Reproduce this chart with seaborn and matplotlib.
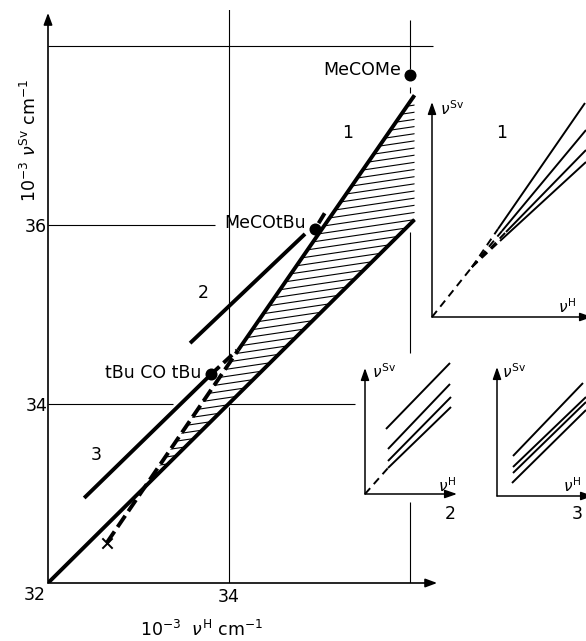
import numpy as np
import matplotlib
matplotlib.use("Agg")
import matplotlib.pyplot as plt
from matplotlib.patches import Polygon
import seaborn as sns

# ---------------- data (units: 10^-3 cm^-1) ----------------
lower_x = [32.0, 36.05]
lower_y = [32.0, 36.06]
line1_solid_x = [34.10, 36.05]
line1_solid_y = [34.60, 37.45]
line1_dash_x = [32.65, 34.10]
line1_dash_y = [32.45, 34.60]
line2_solid_x = [33.57, 34.84]
line2_solid_y = [34.68, 35.90]
line2_dash_x = [34.99, 35.08]
line2_dash_y = [36.02, 36.17]
line3_solid_x = [32.40, 33.77]
line3_solid_y = [32.95, 34.30]
line3_dash_x = [33.80, 34.09]
line3_dash_y = [34.33, 34.60]

solvent_names = ["MeCOMe", "MeCOtBu", "tBu CO tBu"]
solvent_x = [36.00, 34.95, 33.80]
solvent_y = [37.68, 35.95, 34.33]
label_right_x = [35.90, 34.85, 33.69]
label_base_y = [37.68, 35.97, 34.29]

cross_x = [32.65]
cross_y = [32.45]

region_labels = ["1", "2", "3"]
region_x = [35.31, 33.72, 32.53]
region_y = [37.03, 35.24, 33.43]

x_ticks = [34]
y_ticks = [34, 36]

# grid lines: (value, start, end) visible pieces
grid_h = [(38, 32.0, 36.25), (36, 32.0, 33.84), (34, 32.0, 33.38), (34, 33.95, 35.39)]
grid_v = [(34, 32.0, 33.97), (34, 34.52, 38.42), (36, 37.74, 38.29),
          (36, 37.47, 37.54), (36, 34.57, 35.92), (36, 32.0, 32.90)]

# insets (schematic units)
ins1_conv = (40, 50)
ins1_start_u = [66, 70, 74, 68]
ins1_start_v = [88, 86, 85, 76]
ins1_end_u = [153, 154, 154, 154]
ins1_end_v = [214, 187, 167, 155]

ins2_start_u = [21, 23, 23, 23]
ins2_start_v = [65, 45, 33, 26]
ins2_end_u = [85, 85, 86, 86]
ins2_end_v = [131, 110, 97, 87]

ins3_start_u = [16, 16, 16, 15]
ins3_start_v = [40, 29, 23, 13]
ins3_end_u = [86, 89, 89, 89]
ins3_end_v = [113, 99, 94, 86]

# ---------------- style ----------------
sns.set_theme(style="white")
plt.rcParams["font.family"] = ["DejaVu Sans"]
plt.rcParams["mathtext.fontset"] = "dejavusans"
for k in ["text.color", "axes.labelcolor", "xtick.color", "ytick.color"]:
    plt.rcParams[k] = "black"

W, H = 586, 641
fig = plt.figure(figsize=(W / 100, H / 100), dpi=100)
fig.patch.set_facecolor("white")

px_x, px_y = 90.5, 89.5
ax = fig.add_axes([48 / W, (H - 583) / H, 397 / W, 573 / H])
ax.set_xlim(32, 32 + 397 / px_x)
ax.set_ylim(32, 32 + 573 / px_y)
ax.set_facecolor("none")
for s in ax.spines.values():
    s.set_visible(False)

FS = 12.5
LW = 2.8
GRID_LW = 0.8

# axes arrows
arrow = dict(arrowstyle="-|>,head_length=0.35,head_width=0.13", color="black",
             lw=1.2, mutation_scale=20, shrinkA=0, shrinkB=0)
ax.annotate("", xy=(32, 38.37), xytext=(32, 32), arrowprops=arrow, annotation_clip=False)
ax.annotate("", xy=(36.30, 32), xytext=(32, 32), arrowprops=arrow, annotation_clip=False)

# grid pieces
for val, a, b in grid_h:
    ax.plot([a, b], [val, val], color="black", lw=GRID_LW, zorder=1, solid_capstyle="butt")
for val, a, b in grid_v:
    ax.plot([val, val], [a, b], color="black", lw=GRID_LW, zorder=1, solid_capstyle="butt")


def intersect(p1, p2, p3, p4):
    (x1, y1), (x2, y2), (x3, y3), (x4, y4) = p1, p2, p3, p4
    d = (x1 - x2) * (y3 - y4) - (y1 - y2) * (x3 - x4)
    t = ((x1 - x3) * (y3 - y4) - (y1 - y3) * (x3 - x4)) / d
    return x1 + t * (x2 - x1), y1 + t * (y2 - y1)


P = intersect((line1_dash_x[0], line1_dash_y[0]), (line1_dash_x[1], line1_dash_y[1]),
              (lower_x[0], lower_y[0]), (lower_x[1], lower_y[1]))
verts = [P, (line1_solid_x[0], line1_solid_y[0]), (line1_solid_x[1], line1_solid_y[1]),
         (lower_x[1], lower_y[1])]
poly = Polygon(verts, closed=True, facecolor="white", edgecolor="none", zorder=2)
ax.add_patch(poly)

# hatch lines, slightly rising, clipped to the region
hs = 0.08
slope = 0.15
xs = np.array([32.5, 36.5])
for c in np.arange(P[1] - 0.6, line1_solid_y[1] + 0.1, hs):
    ln, = ax.plot(xs, c + slope * (xs - 34.0), color="black", lw=0.8, zorder=3)
    ln.set_clip_path(poly)


def sline(axx, x, y, lw, dash=None, z=4):
    kw = dict(color="black", linewidth=lw, zorder=z, sort=False, estimator=None,
              legend=False, solid_capstyle="butt")
    if dash is not None:
        kw["linestyle"] = (0, dash)
    sns.lineplot(x=x, y=y, ax=axx, **kw)


sline(ax, lower_x, lower_y, LW)
sline(ax, line1_solid_x, line1_solid_y, LW)
sline(ax, line1_dash_x, line1_dash_y, LW, dash=(3.5, 1.4))
sline(ax, line2_solid_x, line2_solid_y, LW)
sline(ax, line2_dash_x, line2_dash_y, LW, dash=(3.0, 1.4))
sline(ax, line3_solid_x, line3_solid_y, LW)
sline(ax, line3_dash_x, line3_dash_y, LW, dash=(3.0, 1.4))

sns.scatterplot(x=solvent_x, y=solvent_y, ax=ax, color="black", s=75,
                edgecolor="black", linewidth=0, zorder=6, legend=False)
sns.scatterplot(x=cross_x, y=cross_y, ax=ax, color="black", marker="x", s=55,
                linewidth=1.4, zorder=6, legend=False)

for name, xr, yb in zip(solvent_names, label_right_x, label_base_y):
    ax.text(xr, yb, name, ha="right", va="baseline", fontsize=FS, zorder=7)
for lab, xr, yr in zip(region_labels, region_x, region_y):
    ax.text(xr, yr, lab, ha="center", va="center", fontsize=FS, zorder=7)

# ticks
ax.set_xticks(x_ticks)
ax.set_xticklabels([str(t) for t in x_ticks])
ax.set_yticks(y_ticks)
ax.set_yticklabels([str(t) for t in y_ticks])
ax.tick_params(axis="x", length=0, pad=3.5, labelsize=FS, colors="black")
ax.tick_params(axis="y", length=0, pad=0.5, labelsize=FS, colors="black")
ax.text(32 - 13 / px_x, 32 - 12 / px_y, "32", ha="center", va="center", fontsize=FS)

ax.set_xlabel(r"10$^{-3}$  $\nu^{\rm H}$ cm$^{-1}$", fontsize=FS, va="top", color="black")
ax.xaxis.set_label_coords((201 - 48) / 397, (583 - 620) / 573)
ax.set_ylabel(r"10$^{-3}$ $\nu^{\rm Sv}$ cm$^{-1}$", fontsize=FS, color="black")
ax.yaxis.set_label_coords((40 - 48) / 397, (583 - 140) / 573)


# ---------------- insets ----------------
def make_inset(box, origin):
    x0, y0, x1, y1 = box
    a = fig.add_axes([x0 / W, 1 - y1 / H, (x1 - x0) / W, (y1 - y0) / H])
    ox, oy = origin
    a.set_xlim(x0 - ox, x1 - ox)
    a.set_ylim(oy - y1, oy - y0)
    a.axis("off")
    a.set_facecolor("none")
    return a


iarrow = dict(arrowstyle="-|>,head_length=0.4,head_width=0.14", color="black",
              lw=1.1, mutation_scale=18, shrinkA=0, shrinkB=0)
ILW = 1.4
IDASH = (4.0, 2.8)
IFS = 11


def inset_axes_arrows(a, xtip, ytip):
    a.annotate("", xy=(0, ytip), xytext=(0, 0), arrowprops=iarrow, annotation_clip=False)
    a.annotate("", xy=(xtip, 0), xytext=(0, 0), arrowprops=iarrow, annotation_clip=False)


# inset 1
a1 = make_inset((420, 90, 586, 330), (432, 317))
inset_axes_arrows(a1, 160, 215)
sline(a1, [0, ins1_conv[0]], [0, ins1_conv[1]], ILW, dash=IDASH)
for su, sv, eu, ev in zip(ins1_start_u, ins1_start_v, ins1_end_u, ins1_end_v):
    sline(a1, [ins1_conv[0], su], [ins1_conv[1], sv], ILW, dash=IDASH)
    sline(a1, [su, eu], [sv, ev], ILW)
a1.text(8, 202, r"$\nu^{\rm Sv}$", fontsize=IFS, ha="left", va="baseline")
a1.text(126, 4, r"$\nu^{\rm H}$", fontsize=IFS, ha="left", va="baseline")
a1.text(70, 184, "1", fontsize=FS, ha="center", va="center")

# inset 2
a2 = make_inset((355, 355, 470, 530), (365, 494))
inset_axes_arrows(a2, 92, 126)
sline(a2, [0, ins2_start_u[-1]], [0, ins2_start_v[-1]], ILW, dash=IDASH)
for su, sv, eu, ev in zip(ins2_start_u, ins2_start_v, ins2_end_u, ins2_end_v):
    sline(a2, [su, eu], [sv, ev], ILW)
a2.text(7, 116, r"$\nu^{\rm Sv}$", fontsize=IFS, ha="left", va="baseline")
a2.text(73, 2, r"$\nu^{\rm H}$", fontsize=IFS, ha="left", va="baseline")
a2.text(85, -20, "2", fontsize=FS, ha="center", va="center")

# inset 3
a3 = make_inset((485, 355, 586, 530), (497, 496))
inset_axes_arrows(a3, 96, 129)
for su, sv, eu, ev in zip(ins3_start_u, ins3_start_v, ins3_end_u, ins3_end_v):
    sline(a3, [su, eu], [sv, ev], ILW)
a3.text(5, 118, r"$\nu^{\rm Sv}$", fontsize=IFS, ha="left", va="baseline")
a3.text(66, 4, r"$\nu^{\rm H}$", fontsize=IFS, ha="left", va="baseline")
a3.text(80, -18, "3", fontsize=FS, ha="center", va="center")

fig.savefig("out.png", dpi=100, facecolor="white")
